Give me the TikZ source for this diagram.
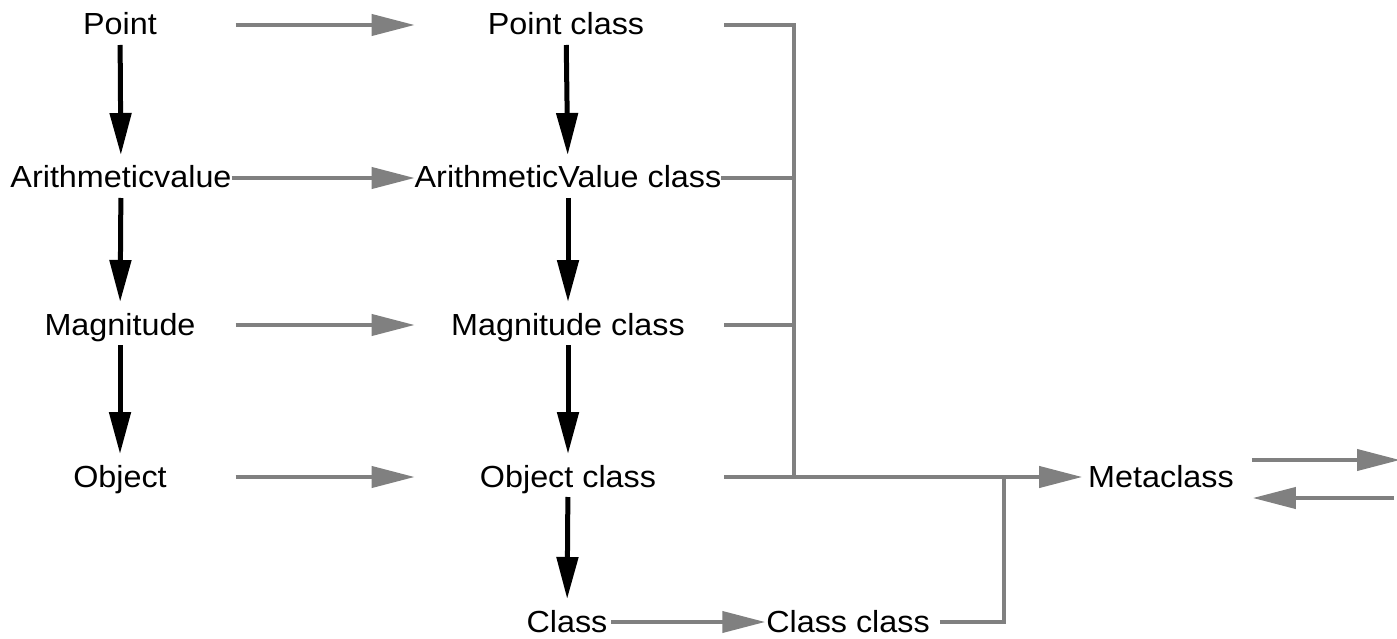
\documentclass[tikz,border=0pt]{standalone}
\usepackage{fontspec}
\setmainfont[FakeStretch=1.06]{Liberation Sans}
\usetikzlibrary{arrows.meta,calc}
\definecolor{agray}{RGB}{128,128,128}
\begin{document}
\begin{tikzpicture}[x=1pt,y=-1pt,
  lbl/.style={inner sep=0pt,outer sep=0pt,text height=24pt,text depth=4pt,font=\fontsize{30.5}{36}\selectfont},
  blk/.style={line width=5pt,draw=black,-{Triangle[length=42pt,width=21pt]},shorten <=6pt,shorten >=9pt},
  gar/.style={line width=4pt,draw=agray,-{Triangle[length=43pt,width=21pt,fill=agray]}},
  gln/.style={line width=4pt,draw=agray}]
\useasboundingbox (0,0) rectangle (1397,639);
% left column
\node[lbl] (p)  at (120,25)  {Point};
\node[lbl] (av) at (121,178) {Arithmeticvalue};
\node[lbl] (m)  at (120,325) {Magnitude};
\node[lbl] (o)  at (120,477) {Object};
% middle column
\node[lbl] (pc)  at (566,25)  {Point class};
\node[lbl] (avc) at (568,178) {ArithmeticValue class};
\node[lbl] (mc)  at (568,325) {Magnitude class};
\node[lbl] (oc)  at (568,477) {Object class};
\node[lbl] (c)   at (567,622) {Class};
\node[lbl] (cc)  at (848,622) {Class class};
\node[lbl] (meta) at (1161,477) {Metaclass};
% junction coordinates
\coordinate (j1) at (794,25);
\coordinate (j2) at (794,178);
\coordinate (j3) at (794,325);
\coordinate (j4) at (794,477);
\coordinate (k1) at (1004,622);
\coordinate (k2) at (1004,477);
\coordinate (r1) at (1400,460);
\coordinate (r2) at (1394,498);
% black inheritance arrows
\draw[blk] (p) -- (av);
\draw[blk] (av) -- (m);
\draw[blk] (m) -- (o);
\draw[blk] (pc) -- (avc);
\draw[blk] (avc) -- (mc);
\draw[blk] (mc) -- (oc);
\draw[blk] (oc) -- (c);
% gray instance arrows
\draw[gar] ([xshift=4pt]av.east |- p) -- (avc.west |- pc);
\draw[gar] (av.east) -- (avc.west);
\draw[gar] ([xshift=4pt]av.east |- m) -- (avc.west |- mc);
\draw[gar] ([xshift=4pt]av.east |- o) -- (avc.west |- oc);
\draw[gar,shorten <=4pt,shorten >=1pt] (c.east) -- (cc.west);
% bracket
\draw[gln] ([xshift=3pt]avc.east |- pc) -- (j1) -- (j4);
\draw[gln] (avc.east) -- (j2);
\draw[gln] ([xshift=3pt]avc.east |- mc) -- (j3);
\draw[gar,shorten >=6pt] ([xshift=3pt]avc.east |- oc) -- (meta.west);
\draw[gln,shorten <=10pt] (cc.east) -- (k1) -- (k2);
% metaclass self arrows
\draw[gar,shorten <=18pt] (meta.east |- r1) -- (r1);
\draw[gar,shorten >=19pt] (r2) -- (meta.east |- r2);
\end{tikzpicture}
\end{document}
